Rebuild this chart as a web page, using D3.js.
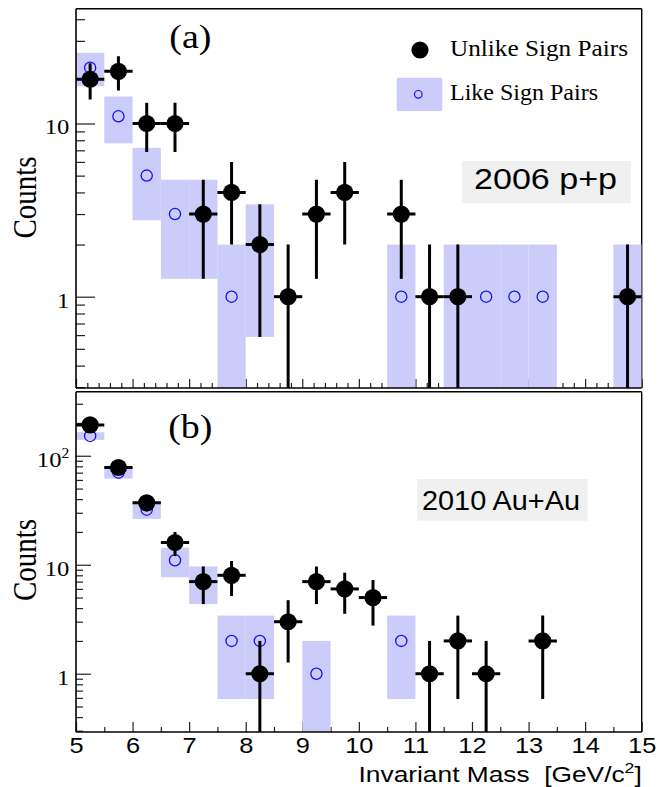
<!DOCTYPE html>
<html><head><meta charset="utf-8">
<script src="https://cdn.jsdelivr.net/npm/d3@7"></script>
<style>body{margin:0;background:#fff} svg{display:block}</style>
</head><body>
<svg id="c" width="669" height="787"></svg>
<script>
// ---------------- data ----------------
const binCenters = [5.25,5.75,6.25,6.75,7.25,7.75,8.25,8.75,9.25,9.75,10.25,10.75,11.25,11.75,12.25,12.75,13.25,13.75,14.25,14.75];
const binWidth = 0.5;
const unlikePP   = [18,20,10,10,3,4,2,1,3,4,0,3,1,1,0,0,0,0,0,1];
const likePP     = [21,11,5,3,3,1,2,0,0,0,0,1,0,1,1,1,1,0,0,1];
const unlikeAuAu = [192,78,37,16,7,8,1,3,7,6,5,0,1,2,1,0,2,0,0,0];
const likeAuAu   = [152,70,32,11,7,2,2,0,1,0,0,2,0,0,0,0,0,0,0,0];
const xTickValues = [5,6,7,8,9,10,11,12,13,14,15];
const yTickLabelsPP = [1,10];
const yTickLabelsAuAu = [1,10,100];
const legendLabels = ["Unlike Sign Pairs","Like Sign Pairs"];
const panelLabels = ["(a)","(b)"];
const systemLabels = ["2006 p+p","2010 Au+Au"];
const yTitle = "Counts";
const xTitle = "Invariant Mass\u00a0\u00a0[GeV/c";

// ---------------- setup ----------------
const svg = d3.select("#c");
const serif = "'Liberation Serif','Times New Roman',Times,serif";
const sans = "'Liberation Sans',Arial,Helvetica,sans-serif";
const BOX = "#ccccfa", BLUE = "#1010ff";
const x = d3.scaleLinear().domain([5,15]).range([76,641.7]);

svg.append("rect").attr("width",669).attr("height",787).attr("fill","#fff");

const panels = [
  {id:"pp", top:8.7, bottom:388, domain:[0.297,46], unlike:unlikePP, like:likePP,
   yMajor:19, yMinor:9, xMinorCount:50, xMajor:9, xMinor:5, labels:yTickLabelsPP,
   showX:false, titleY:197.5, label:panelLabels[0], labelY:48.3,
   sys:systemLabels[0], sysRect:[461.7,161,169,42.3], sysX:474, sysY:189.3, sysSize:29, sysLen:143},
  {id:"au", top:391.7, bottom:732, domain:[0.292,387], unlike:unlikeAuAu, like:likeAuAu,
   yMajor:15, yMinor:7, xMinorCount:20, xMajor:10, xMinor:5, labels:yTickLabelsAuAu,
   showX:true, titleY:560, label:panelLabels[1], labelY:438.3,
   sys:systemLabels[1], sysRect:[417.3,479,170.4,41.7], sysX:422, sysY:510, sysSize:28, sysLen:158}
];

panels.forEach(p => {
  const y = d3.scaleLog().domain(p.domain).range([p.bottom, p.top]);
  const g = svg.append("g");
  const ymin = p.domain[0];

  // frame top/right
  g.append("line").attr("x1",x(5)).attr("x2",x(15)).attr("y1",p.top).attr("y2",p.top).attr("stroke","#000").attr("stroke-width",1.4);
  g.append("line").attr("x1",x(15)).attr("x2",x(15)).attr("y1",p.top).attr("y2",p.bottom).attr("stroke","#000").attr("stroke-width",1.4);

  // y minor ticks
  const allT = y.ticks();
  const minorT = allT.filter(v => Math.abs(Math.log10(v) - Math.round(Math.log10(v))) > 1e-6);
  g.append("g").attr("transform",`translate(${x(5)},0)`)
    .call(d3.axisLeft(y).tickValues(minorT).tickSize(-p.yMinor).tickFormat(""))
    .call(s => { s.select(".domain").remove(); s.selectAll("line").attr("stroke","#222").attr("stroke-width",1.2); });
  // y major ticks + labels
  const ya = g.append("g").attr("transform",`translate(${x(5)},0)`)
    .call(d3.axisLeft(y).tickValues(p.labels).tickSize(-p.yMajor).tickPadding(6).tickFormat(d => d >= 100 ? "10" : String(d)))
    .call(s => { s.select(".domain").remove(); s.selectAll("line").attr("stroke","#222").attr("stroke-width",1.2); });
  ya.selectAll("text").attr("font-family",serif).attr("font-size",22).attr("fill","#000")
    .attr("dy",10.5).attr("transform","scale(1.12,1)")
    .each(function(d){ if (d >= 100) { d3.select(this).append("tspan").attr("font-size",14).attr("dy",-9).text(String(Math.round(Math.log10(d)))); } });

  // x ticks
  const xMinorT = x.ticks(p.xMinorCount).filter(v => Math.abs(v - Math.round(v)) > 1e-6);
  g.append("g").attr("transform",`translate(0,${p.bottom})`)
    .call(d3.axisBottom(x).tickValues(xMinorT).tickSize(-p.xMinor).tickFormat(""))
    .call(s => { s.select(".domain").remove(); s.selectAll("line").attr("stroke","#222").attr("stroke-width",1.2); });
  const xa = g.append("g").attr("transform",`translate(0,${p.bottom})`)
    .call(d3.axisBottom(x).tickValues(xTickValues).tickSize(-p.xMajor).tickPadding(5.5).tickFormat(p.showX ? d3.format("d") : ""))
    .call(s => { s.select(".domain").remove(); s.selectAll("line").attr("stroke","#222").attr("stroke-width",1.2); });
  xa.selectAll("text").attr("font-family",sans).attr("font-size",22.5).attr("fill","#000").attr("transform","scale(1.13,1)");

  // clip
  const cid = "clip-" + p.id;
  svg.append("clipPath").attr("id",cid).append("rect")
    .attr("x",x(5)).attr("y",p.top).attr("width",x(15)-x(5)).attr("height",p.bottom-p.top);
  const d = g.append("g").attr("clip-path",`url(#${cid})`);

  const likeData = binCenters.map((c,i)=>({c, v:p.like[i]})).filter(e => e.v > 0);
  const unlikeData = binCenters.map((c,i)=>({c, v:p.unlike[i]})).filter(e => e.v > 0);

  // like-sign boxes
  d.selectAll("rect.box").data(likeData).join("rect").attr("class","box")
    .attr("x", e => x(e.c - binWidth/2))
    .attr("width", e => x(e.c + binWidth/2) - x(e.c - binWidth/2))
    .attr("y", e => y(e.v + Math.sqrt(e.v)))
    .attr("height", e => y(Math.max(e.v - Math.sqrt(e.v), ymin*0.8)) - y(e.v + Math.sqrt(e.v)))
    .attr("fill", BOX);
  // like-sign circles
  d.selectAll("circle.like").data(likeData).join("circle").attr("class","like")
    .attr("cx", e => x(e.c)).attr("cy", e => y(e.v)).attr("r",5.6)
    .attr("fill","none").attr("stroke",BLUE).attr("stroke-width",1.3);
  // unlike error bars
  d.selectAll("line.eh").data(unlikeData).join("line").attr("class","eh")
    .attr("x1", e => x(e.c - binWidth/2)).attr("x2", e => x(e.c + binWidth/2))
    .attr("y1", e => y(e.v)).attr("y2", e => y(e.v))
    .attr("stroke","#000").attr("stroke-width",3);
  d.selectAll("line.ev").data(unlikeData).join("line").attr("class","ev")
    .attr("x1", e => x(e.c)).attr("x2", e => x(e.c))
    .attr("y1", e => y(e.v + Math.sqrt(e.v)))
    .attr("y2", e => y(Math.max(e.v - Math.sqrt(e.v), ymin*0.8)))
    .attr("stroke","#000").attr("stroke-width",3);
  d.selectAll("circle.unlike").data(unlikeData).join("circle").attr("class","unlike")
    .attr("cx", e => x(e.c)).attr("cy", e => y(e.v)).attr("r",8.6).attr("fill","#000");

  // frame left/bottom
  g.append("line").attr("x1",x(5)).attr("x2",x(5)).attr("y1",p.top).attr("y2",p.bottom).attr("stroke","#000").attr("stroke-width",1.6);
  g.append("line").attr("x1",x(5)).attr("x2",x(15)).attr("y1",p.bottom).attr("y2",p.bottom).attr("stroke","#000").attr("stroke-width",1.6);

  // y title
  g.append("text").attr("transform",`translate(36,${p.titleY}) scale(1.13,1) rotate(-90)`)
    .attr("text-anchor","middle").attr("font-family",serif).attr("font-size",29).attr("fill","#000").text(yTitle);

  // panel label
  g.append("text").attr("transform",`translate(190.3,${p.labelY}) scale(1.15,1)`)
    .attr("text-anchor","middle").attr("font-family",serif).attr("font-size",33).attr("fill","#000").text(p.label);

  // system label box
  g.append("rect").attr("x",p.sysRect[0]).attr("y",p.sysRect[1]).attr("width",p.sysRect[2]).attr("height",p.sysRect[3]).attr("fill","#f0f0f0");
  g.append("text").attr("x",p.sysX).attr("y",p.sysY).attr("font-family",sans).attr("font-size",p.sysSize)
    .attr("textLength",p.sysLen).attr("lengthAdjust","spacingAndGlyphs").attr("fill","#000").text(p.sys);
});

// legend (top panel)
const lg = svg.append("g");
lg.append("circle").attr("cx",420).attr("cy",50).attr("r",8.6).attr("fill","#000");
lg.append("text").attr("x",450).attr("y",55.7).attr("font-family",serif).attr("font-size",24)
  .attr("textLength",178).attr("lengthAdjust","spacingAndGlyphs").attr("fill","#000").text(legendLabels[0]);
lg.append("rect").attr("x",396.7).attr("y",77.7).attr("width",45.6).attr("height",33.3).attr("rx",1.5).attr("fill",BOX);
lg.append("circle").attr("cx",418.3).attr("cy",94.3).attr("r",3.8).attr("fill","none").attr("stroke",BLUE).attr("stroke-width",1.2);
lg.append("text").attr("x",450).attr("y",100).attr("font-family",serif).attr("font-size",24)
  .attr("textLength",148).attr("lengthAdjust","spacingAndGlyphs").attr("fill","#000").text(legendLabels[1]);

// x title
const xt = svg.append("text").attr("transform","translate(641.7,781.5) scale(1.17,1)")
  .attr("text-anchor","end").attr("font-family",sans).attr("font-size",22.5).attr("fill","#000");
xt.append("tspan").text(xTitle);
xt.append("tspan").attr("font-size",15).attr("dy",-9).text("2");
xt.append("tspan").attr("dy",9).text("]");
</script>
</body></html>
